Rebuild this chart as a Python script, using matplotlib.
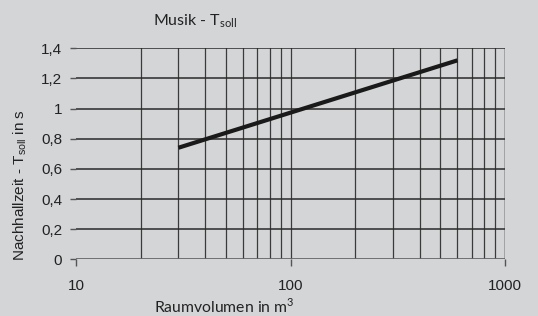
import matplotlib
matplotlib.use("Agg")
import matplotlib.pyplot as plt
import numpy as np

# data
volume = [30, 600]
t_soll = [0.74, 1.32]
y_ticks = [0, 0.2, 0.4, 0.6, 0.8, 1.0, 1.2, 1.4]
y_labels = ["0", "0,2", "0,4", "0,6", "0,8", "1", "1,2", "1,4"]
x_ticks = [10, 100, 1000]
x_labels = ["10", "100", "1000"]
minor_x = [20, 30, 40, 50, 60, 70, 80, 90, 200, 300, 400, 500, 600, 700, 800, 900]

bg = "#d4d5d7"
plt.rcParams["font.family"] = ["Liberation Sans", "DejaVu Sans"]

fig = plt.figure(figsize=(5.38, 3.16), dpi=100, facecolor=bg)
ax = fig.add_axes([76 / 538, 1 - 259.3 / 316, (505 - 76) / 538, (259.3 - 48.3) / 316])
ax.set_facecolor(bg)
ax.set_xscale("log")
ax.set_xlim(10, 1000)
ax.set_ylim(0, 1.4)

# grid
for xv in minor_x + [100]:
    ax.axvline(xv, color="#3a3a3a", lw=0.9, zorder=1)
ax.axvline(1000, color="#9a9a9a", lw=1.2, zorder=1)
for yv in y_ticks[1:]:
    ax.axhline(yv, color="#2a2a2a", lw=1.1, zorder=1)
ax.axhline(0, color="#666666", lw=2.0, zorder=2)

ax.plot(volume, t_soll, color="#1a1a1a", lw=3.0, solid_capstyle="butt", zorder=3)

for s in ax.spines.values():
    s.set_visible(False)

ax.set_yticks(y_ticks)
ax.set_yticklabels(y_labels)
ax.set_xticks(x_ticks)
ax.set_xticklabels(x_labels)
ax.xaxis.set_minor_locator(matplotlib.ticker.NullLocator())
ax.tick_params(axis="y", length=4, width=1, color="#555555", pad=6, labelsize=11, labelcolor="#222222")
ax.tick_params(axis="x", length=5, width=1, color="#555555", pad=9, labelsize=11, labelcolor="#222222")

fig.text(195 / 538, 1 - 21 / 316, r"Musik - T$_{\mathregular{soll}}$", ha="center", va="center",
         fontsize=11.5, color="#222222", family=["Lato", "DejaVu Sans"])
fig.text(224 / 538, 1 - 306 / 316, r"Raumvolumen in m$^{\mathregular{3}}$", ha="center", va="center",
         fontsize=11.3, color="#222222", family=["Lato", "DejaVu Sans"])
fig.text(20 / 538, 1 - 185 / 316, r"Nachhallzeit - T$_{\mathregular{soll}}$ in s", ha="center", va="center",
         rotation=90, fontsize=11, color="#222222", family=["Liberation Sans", "DejaVu Sans"])

fig.savefig("out.png", dpi=100, facecolor=bg)
